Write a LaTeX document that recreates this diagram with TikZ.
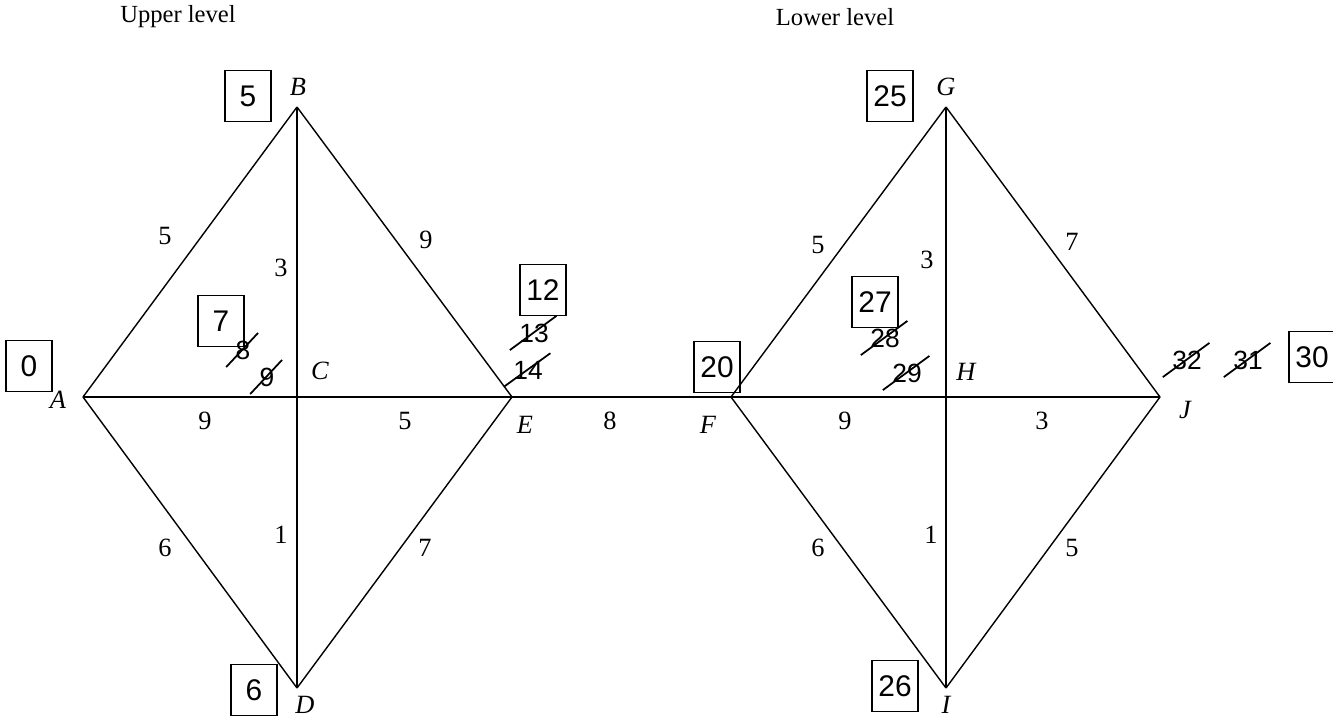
\documentclass[tikz,border=0pt]{standalone}
\usepackage{fontspec}
\setmainfont{Liberation Serif}
\newfontfamily\handfont{Liberation Sans}
\tikzset{
    vlabel/.style={font=\itshape\fontsize{15}{17}\selectfont, inner sep=1pt},
    wlabel/.style={font=\fontsize{15}{17}\selectfont, inner sep=1pt},
    tlabel/.style={font=\fontsize{14}{16}\selectfont, inner sep=1pt},
    valbox/.style={draw, line width=1pt, font=\handfont\fontsize{17}{19}\selectfont,
        minimum width=26pt, minimum height=29pt, inner sep=2pt},
    oldval/.style={font=\handfont\fontsize{15}{17}\selectfont, inner sep=1pt,
        append after command={\pgfextra{\let\oldnode=\tikzlastnode}
            ([xshift=-4pt,yshift=-3pt]\oldnode.south west) edge[line width=1pt]
            ([xshift=3pt,yshift=3pt]\oldnode.north east)}},
}
\begin{document}
\begin{tikzpicture}[x=0.02cm, y=-0.02cm, line width=0.8pt]
    \useasboundingbox (0,0) rectangle (1333,718);
    % vertices of the two levels
    \foreach \name/\x/\y in {A/83/397, B/297/107, C/297/397, D/297/688, E/512/397,
                             F/731/397, G/946/107, H/946/397, I/946/688, J/1160/397}
        \coordinate (\name) at (\x,\y);
    % links
    \foreach \from/\to in {A/B, B/E, A/D, D/E, B/C, C/D, A/C, C/E, E/F,
                           F/G, G/J, F/I, I/J, G/H, H/I, F/H, H/J}
        \draw (\from) -- (\to);
    % level titles
    \node[tlabel] (upper) at (178,17) {Upper level};
    \node[tlabel] (lower) at (835,17) {Lower level};
    % vertex names
    \foreach \name/\x/\y in {A/58/400, B/298/87, C/320/371, D/305/705, E/525/425,
                             F/708/425, G/946/87, H/966/372, I/946/705, J/1185/410}
        \node[vlabel] (l\name) at (\x,\y) {\name};
    % link weights
    \foreach \i/\x/\y/\w in {1/165/236/5, 2/281/268/3, 3/426/240/9, 4/205/421/9,
                             5/405/421/5, 6/281/535/1, 7/165/548/6, 8/425/548/7,
                             9/610/421/8, 10/818/245/5, 11/927/260/3, 12/1072/242/7,
                             13/845/421/9, 14/1042/421/3, 15/931/535/1, 16/818/548/6,
                             17/1072/548/5}
        \node[wlabel] (w\i) at (\x,\y) {\w};
    % final labels
    \foreach \name/\x/\y/\v in {A/29/366/0, B/248/96/5, C/221/321/7, D/254/690/6,
                                E/543/290/12, F/717/367/20, G/890/96/25,
                                H/875/302/27, I/895/686/26, J/1312/357/30}
        \node[valbox] (box\name) at (\x,\y) {\v};
    % crossed-out labels
    \foreach \i/\x/\y/\v in {1/243/350/8, 2/267/377/9, 3/534/333/13, 4/528/370/14,
                             5/885/338/28, 6/907/373/29, 7/1187/360/32, 8/1248/360/31}
        \node[oldval] (old\i) at (\x,\y) {\v};
\end{tikzpicture}
\end{document}
